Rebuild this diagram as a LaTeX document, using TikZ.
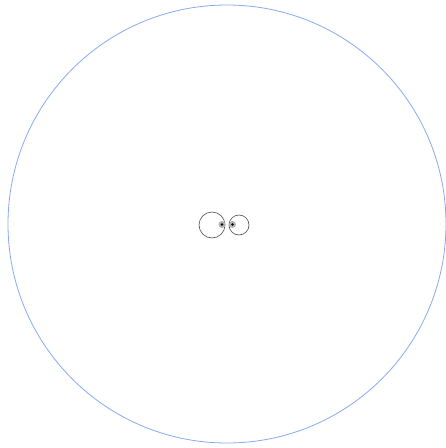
\documentclass[tikz,border=0pt]{standalone}
\usetikzlibrary{positioning}
\definecolor{orbitblue}{RGB}{135,170,240}

\begin{document}
\begin{tikzpicture}[x=1pt,y=-1pt,line cap=round,
    ring/.style={circle,draw=black!70,line width=0.6pt,inner sep=0pt},
    dot/.style={circle,fill=black!30,inner sep=0pt,minimum size=7pt,
      path picture={\fill[black] (path picture bounding box.center) circle (1.4pt);}}]
  \useasboundingbox (0,0) rectangle (446,448);
  \draw[orbitblue,line width=0.8pt] (227,224) circle (219);
  \node[ring,minimum size=26pt] (big) at (212,225) {};
  \node[ring,minimum size=20pt] (small) at (239,225) {};
  \node[dot] (bigdot) at (222,224.5) {};
  \node[dot] (smalldot) at (232.5,224.5) {};
\end{tikzpicture}
\end{document}
